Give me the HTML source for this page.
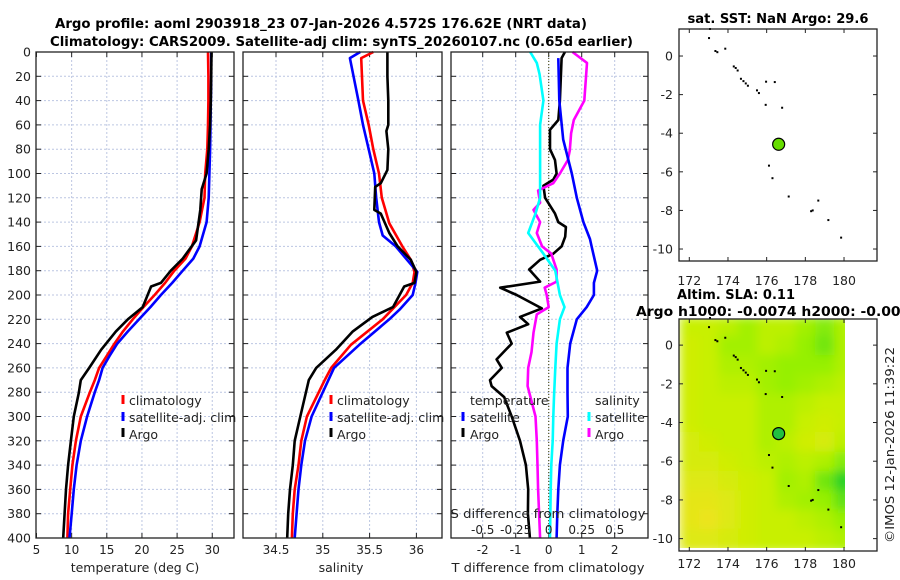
<!DOCTYPE html>
<html><head><meta charset="utf-8">
<style>
html,body{margin:0;padding:0;background:#fff;}
svg{display:block;font-family:"DejaVu Sans","Liberation Sans",sans-serif;}
</style></head>
<body>
<svg id="fig" width="900" height="580" viewBox="0 0 900 580" xmlns="http://www.w3.org/2000/svg">
<defs>
<filter id="smooth" x="0" y="0" width="1" height="1"><feGaussianBlur stdDeviation="5" edgeMode="duplicate"/></filter>
</defs>
<g font-weight="bold" font-size="13" fill="#000">
<text x="55" y="28" textLength="532" lengthAdjust="spacingAndGlyphs">Argo profile: aoml 2903918_23 07-Jan-2026 4.572S 176.62E (NRT data)</text>
<text x="50" y="46" textLength="583" lengthAdjust="spacingAndGlyphs">Climatology: CARS2009. Satellite-adj clim: synTS_20260107.nc (0.65d earlier)</text>
</g>
</svg>
<script>
// ---------- data ----------
const tempClimDepth=[0,20,40,60,80,100,120,140,160,170,180,190,200,210,220,230,240,250,260,270,280,300,320,340,360,380,400];
const tempClim=[29.4,29.45,29.45,29.4,29.3,29.0,28.9,28.2,27.1,26.2,24.6,23.3,21.8,20.2,18.7,17.3,16.1,15.0,13.9,13.3,12.6,11.3,10.6,10.1,9.8,9.5,9.4];
const tempSat=[29.85,29.85,29.8,29.75,29.7,29.6,29.5,29.2,28.2,27.3,25.8,24.3,22.7,21.2,19.6,18.0,16.5,15.4,14.4,13.9,13.3,12.2,11.3,10.7,10.3,10.0,9.7];
const tempArgoDepth=[0,20,40,60,80,100,113,130,155,170,180,190,193,210,220,230,245,260,270,281,300,320,340,360,380,400];
const tempArgo=[29.9,29.85,29.8,29.7,29.5,29.2,28.5,28.3,27.7,25.8,24.1,22.7,21.3,20.1,18.0,16.3,14.2,12.5,11.3,11.0,10.3,9.9,9.5,9.2,9.0,8.8];

const salClimDepth=[0,5,40,60,80,100,120,141,160,171,181,190,200,220,241,260,270,300,320,340,360,380,400];
const salClim=[35.54,35.41,35.43,35.49,35.54,35.6,35.63,35.71,35.85,35.94,35.98,35.96,35.89,35.64,35.3,35.09,35.02,34.83,34.77,34.74,34.70,34.68,34.67];
const salSatDepth=[0,5,40,60,80,100,120,140,151,160,171,181,190,200,212,220,241,260,270,300,320,340,360,380,400];
const salSat=[35.40,35.29,35.38,35.43,35.49,35.55,35.57,35.6,35.64,35.78,35.9,36.01,35.99,35.96,35.82,35.71,35.39,35.12,35.06,34.88,34.81,34.77,34.74,34.72,34.70];
const salArgoDepth=[0,20,40,60,65,80,97,108,111,130,133,149,160,171,181,190,193,210,218,230,245,260,270,300,320,340,360,380,400];
const salArgo=[35.69,35.69,35.70,35.70,35.68,35.70,35.69,35.62,35.56,35.55,35.62,35.71,35.8,35.94,36.0,35.98,35.87,35.75,35.53,35.32,35.14,34.93,34.85,34.76,34.70,34.68,34.65,34.63,34.62];

const dTSatDepth=[5,40,72,100,120,140,154,160,180,190,200,210,220,240,260,280,300,320,340,360,380,400];
const dTSat=[0.29,0.32,0.44,0.7,0.85,1.05,1.25,1.3,1.47,1.37,1.37,1.15,0.85,0.65,0.57,0.57,0.58,0.44,0.34,0.29,0.26,0.24];
const dTArgoDepth=[0,5,40,56,64,80,89,100,105,110,120,133,140,144,152,160,166,171,179,189,194,200,211,218,224,231,240,253,260,270,275,284,300,320,340,360,380,400];
const dTArgo=[0.49,0.39,0.34,0.29,0.04,0.04,0.19,0.24,0.14,-0.16,-0.11,0.19,0.29,0.52,0.5,0.39,0.14,-0.26,-0.59,-0.26,-1.47,-0.97,-0.21,-0.87,-0.62,-1.27,-1.12,-1.58,-1.42,-1.78,-1.73,-1.35,-1.12,-0.87,-0.69,-0.62,-0.63,-0.57];
const dSSatDepth=[0,9,18,40,60,100,120,133,149,166,180,200,210,220,240,260,284,300,320,340,360,400];
const dSSat=[-0.14,-0.09,-0.07,-0.04,-0.065,-0.065,-0.065,-0.1,-0.155,-0.04,0.05,0.085,0.12,0.085,0.06,0.05,0.04,0.035,0.03,0.02,0.015,0.01];
const dSArgoDepth=[0,9,40,56,67,81,89,100,108,114,124,130,140,149,160,166,171,179,189,194,200,210,216,231,247,260,275,300,320,340,360,400];
const dSArgo=[0.18,0.29,0.27,0.19,0.17,0.16,0.145,0.085,0.035,-0.08,-0.065,-0.115,-0.065,-0.09,-0.05,0.02,0.035,0.06,0.06,-0.03,-0.015,0,-0.09,-0.115,-0.13,-0.155,-0.16,-0.1,-0.09,-0.085,-0.08,-0.065];

const depthTicks=[0,20,40,60,80,100,120,140,160,180,200,220,240,260,280,300,320,340,360,380,400];
const tempTicks=[5,10,15,20,25,30];
const salTicks=[34.5,35,35.5,36];
const salTickLabels=["34.5","35","35.5","36"];
const dTTicks=[-2,-1,0,1,2];
const dSTicks=[-0.5,-0.25,0,0.25,0.5];
const dSTickLabels=["-0.5","-0.25","0","0.25","0.5"];

const lonTicks=[172,174,176,178,180];
const latTicks=[0,-2,-4,-6,-8,-10];
const islandLon=[173.07,173.02,173.35,173.45,173.86,174.3,174.4,174.5,174.67,174.8,174.92,175.03,175.5,175.6,175.97,176.42,175.95,176.8,176.12,176.3,177.14,178.67,178.3,178.38,179.19,179.85];
const islandLat=[1.4,0.93,0.26,0.2,0.38,-0.54,-0.62,-0.75,-1.18,-1.3,-1.42,-1.54,-1.78,-1.92,-1.33,-1.35,-2.53,-2.68,-5.68,-6.33,-7.28,-7.49,-8.04,-8.0,-8.5,-9.41];
const argoLon=176.62, argoLat=-4.572;
// SLA field, rows lat 1.5..-10.5 (1 deg), cols lon 171.5..180.5
const slaGrid=[
[0.5,0.5,0.55,0.65,0.55,0.55,0.65,0.75,0.6],
[0.45,0.5,0.65,0.65,0.55,0.6,0.7,0.8,0.6],
[0.45,0.5,0.6,0.6,0.65,0.7,0.7,0.7,0.6],
[0.45,0.5,0.55,0.55,0.65,0.7,0.65,0.6,0.55],
[0.45,0.5,0.5,0.5,0.6,0.6,0.55,0.5,0.5],
[0.45,0.5,0.5,0.5,0.6,0.6,0.5,0.45,0.5],
[0.4,0.45,0.5,0.5,0.6,0.55,0.45,0.4,0.55],
[0.4,0.4,0.45,0.5,0.55,0.6,0.55,0.6,0.75],
[0.35,0.35,0.4,0.45,0.5,0.65,0.6,0.8,1.0],
[0.3,0.3,0.35,0.45,0.5,0.6,0.65,0.7,0.85],
[0.3,0.25,0.35,0.45,0.5,0.5,0.55,0.6,0.7],
[0.35,0.35,0.4,0.45,0.5,0.5,0.5,0.55,0.6]
];

// ---------- helpers ----------
const NS="http://www.w3.org/2000/svg";
const svg=document.getElementById('fig');
function mk(tag,attrs,parent){const e=document.createElementNS(NS,tag);for(const k in attrs)e.setAttribute(k,attrs[k]);(parent||svg).appendChild(e);return e;}
const TOP=52,BOT=538;
const yD=d=>TOP+d*(BOT-TOP)/400;
const xT=t=>36.5+(t-5)*7.03;
const xS=s=>276+(s-34.5)*93.6;
const xDT=d=>548.7+d*33;
const xDS=s=>548.7+s*132;
const GRID="#bcc6e2";

function panel(name,x0,x1,xTicks,xf){
  const g=mk('g',{});
  
  
  depthTicks.forEach(d=>{if(d>0&&d<400){const l=mk('line',{x1:x0,x2:x1,y1:yD(d),y2:yD(d),stroke:GRID,'stroke-width':1,'stroke-dasharray':'2,2'},g);
    
    }
    const t1=mk('line',{x1:x0,x2:x0+5,y1:yD(d),y2:yD(d),stroke:'#222','stroke-width':1},g);
    
    
    const t2=mk('line',{x1:x1-5,x2:x1,y1:yD(d),y2:yD(d),stroke:'#222','stroke-width':1},g);
    
    
  });
  xTicks.forEach(v=>{const x=xf(v);if(x>x0+1&&x<x1-1){
    const l=mk('line',{x1:x,x2:x,y1:TOP,y2:BOT,stroke:GRID,'stroke-width':1,'stroke-dasharray':'2,2'},g);
    
    }
    const t1=mk('line',{x1:x,x2:x,y1:BOT-5,y2:BOT,stroke:'#222'},g);
    
    
    const t2=mk('line',{x1:x,x2:x,y1:TOP,y2:TOP+5,stroke:'#222'},g);
    
    
  });
  return g;
}
function series(name,g,depths,vals,xf,color,w){
  const pts=vals.map((v,i)=>xf(v).toFixed(1)+','+yD(depths[i]).toFixed(1)).join(' ');
  const p=mk('polyline',{points:pts,fill:'none',stroke:color,'stroke-width':w||2.6,'stroke-linejoin':'round'},g);
  
  
}
function frame(name,g,x0,x1,y0,y1){
  const r=mk('rect',{x:x0,y:y0,width:x1-x0,height:y1-y0,fill:'none',stroke:'#222','stroke-width':1.3},g);
  
  
}
function txt(name,s,x,y,attrs,parent){
  const t=mk('text',Object.assign({x:x,y:y,'font-size':12,fill:'#222'},attrs||{}),parent);
  t.textContent=s;
  
  
  return t;
}
function legendMark(g,x,y,color){
  const l=mk('line',{x1:x,x2:x,y1:y-10,y2:y-1,stroke:color,'stroke-width':3},g);
  
  
}

// ---------- panel 1: temperature ----------
const g1=panel('temperature-panel',36,234,tempTicks,xT);
series('temp-climatology-line',g1,tempClimDepth,tempClim,xT,'#ff0000');
series('temp-satellite-line',g1,tempClimDepth,tempSat,xT,'#0000ff');
series('temp-argo-line',g1,tempArgoDepth,tempArgo,xT,'#000000');
frame('temperature-axes-frame',g1,36,234,TOP,BOT);
depthTicks.forEach(d=>txt('depth-tick-label',String(d),31,yD(d)+4.5,{'text-anchor':'end','font-size':12.5},g1));
tempTicks.forEach(v=>txt('temp-tick-label',String(v),xT(v),554,{'text-anchor':'middle'},g1));
txt('temp-x-axis-title','temperature (deg C)',135,572,{'text-anchor':'middle','font-size':12.5},g1);
const lg1=mk('g',{},g1);


legendMark(lg1,123,405,'#ff0000');txt('legend-climatology','climatology',129,405,{'font-size':12.5},lg1);
legendMark(lg1,123,422,'#0000ff');txt('legend-satellite-adj','satellite-adj. clim',129,422,{'font-size':12.5},lg1);
legendMark(lg1,123,438,'#000000');txt('legend-argo','Argo',129,439,{'font-size':12.5},lg1);

// ---------- panel 2: salinity ----------
const g2=panel('salinity-panel',243,442,salTicks,xS);
series('sal-climatology-line',g2,salClimDepth,salClim,xS,'#ff0000');
series('sal-satellite-line',g2,salSatDepth,salSat,xS,'#0000ff');
series('sal-argo-line',g2,salArgoDepth,salArgo,xS,'#000000');
frame('salinity-axes-frame',g2,243,442,TOP,BOT);
salTicks.forEach((v,i)=>txt('sal-tick-label',salTickLabels[i],xS(v),554,{'text-anchor':'middle'},g2));
txt('sal-x-axis-title','salinity',341,572,{'text-anchor':'middle','font-size':12.5},g2);
const lg2=mk('g',{},g2);


legendMark(lg2,331,405,'#ff0000');txt('legend-climatology','climatology',337,405,{'font-size':12.5},lg2);
legendMark(lg2,331,422,'#0000ff');txt('legend-satellite-adj','satellite-adj. clim',337,422,{'font-size':12.5},lg2);
legendMark(lg2,331,438,'#000000');txt('legend-argo','Argo',337,439,{'font-size':12.5},lg2);

// ---------- panel 3: differences ----------
const g3=panel('difference-panel',451,648,dTTicks,xDT);
const zl=mk('line',{x1:xDT(0),x2:xDT(0),y1:TOP,y2:BOT,stroke:'#555522','stroke-width':1.2,'stroke-dasharray':'1,2'},g3);


series('dT-argo-line',g3,dTArgoDepth,dTArgo,xDT,'#000000');
series('dS-argo-line',g3,dSArgoDepth,dSArgo,xDS,'#ff00ff');
series('dS-satellite-line',g3,dSSatDepth,dSSat,xDS,'#00ffff');
series('dT-satellite-line',g3,dTSatDepth,dTSat,xDT,'#0000ff');
frame('difference-axes-frame',g3,451,648,TOP,BOT);
dTTicks.forEach(v=>txt('dT-tick-label',String(v),xDT(v),554,{'text-anchor':'middle'},g3));
txt('dT-x-axis-title','T difference from climatology',548,572,{'text-anchor':'middle','font-size':12.5,textLength:193,lengthAdjust:'spacingAndGlyphs'},g3);
txt('dS-axis-title','S difference from climatology',548,518,{'text-anchor':'middle','font-size':12.5,textLength:195,lengthAdjust:'spacingAndGlyphs'},g3);
dSTicks.forEach((v,i)=>txt('dS-tick-label',dSTickLabels[i],xDS(v),534,{'text-anchor':'middle'},g3));
const lg3=mk('g',{},g3);


txt('legend-temperature-header','temperature',470,405,{'font-size':12.5},lg3);
legendMark(lg3,463,422,'#0000ff');txt('legend-t-satellite','satellite',470,422,{'font-size':12.5},lg3);
legendMark(lg3,463,438,'#000000');txt('legend-t-argo','Argo',470,439,{'font-size':12.5},lg3);
txt('legend-salinity-header','salinity',595,405,{'font-size':12.5},lg3);
legendMark(lg3,589,422,'#00ffff');txt('legend-s-satellite','satellite',595,422,{'font-size':12.5},lg3);
legendMark(lg3,589,438,'#ff00ff');txt('legend-s-argo','Argo',595,439,{'font-size':12.5},lg3);

// ---------- maps ----------
const MX0=679,MX1=877;
const xLon=lon=>689.3+(lon-172)*19.34;
function mapAxes(name){
  const g=mk('g',{});
  
  
  return g;
}
function mapDecor(g,y0,y1,yLat,labelY){
  frame('map-frame',g,MX0,MX1,y0,y1);
  lonTicks.forEach(v=>{const x=xLon(v);
    const t=mk('line',{x1:x,x2:x,y1:y1-4,y2:y1,stroke:'#222'},g);
    
    
    const t2=mk('line',{x1:x,x2:x,y1:y0,y2:y0+4,stroke:'#222'},g);
    
    
    txt('lon-tick-label',String(v),x,labelY,{'text-anchor':'middle','font-size':12.5},g);});
  latTicks.forEach(v=>{const y=yLat(v);
    const t=mk('line',{x1:MX0,x2:MX0+4,y1:y,y2:y,stroke:'#222'},g);
    
    
    const t2=mk('line',{x1:MX1-4,x2:MX1,y1:y,y2:y,stroke:'#222'},g);
    
    
    txt('lat-tick-label',String(v),673,y+4.5,{'text-anchor':'end','font-size':12.5},g);});
}
function islands(g,yLat){
  islandLon.forEach((lon,i)=>{
    const r=mk('rect',{x:xLon(lon)-1,y:yLat(islandLat[i])-1,width:2,height:2,fill:'#000'},g);
    
    
  });
}
function argoDot(g,yLat,fill){
  const c=mk('circle',{cx:xLon(argoLon),cy:yLat(argoLat),r:6,fill:fill,stroke:'#000','stroke-width':1.2},g);
  
  
}
// map 1: SST
const yLat1=lat=>29+(1.4-lat)*19.3;
const m1=mapAxes('sst-map');
txt('sst-map-title','sat. SST: NaN Argo: 29.6',778,23,{'text-anchor':'middle','font-weight':'bold','font-size':13,fill:'#000',textLength:181,lengthAdjust:'spacingAndGlyphs'},m1);
islands(m1,yLat1);
argoDot(m1,yLat1,'#66dd00');
mapDecor(m1,29,261,yLat1,285);

// map 2: SLA
const yLat2=lat=>319+(1.35-lat)*19.35;
const m2=mapAxes('sla-map');
const clip=mk('clipPath',{id:'slaclip'},svg);
mk('rect',{x:MX0,y:319,width:845-MX0,height:229},clip);
const hmOuter=mk('g',{'clip-path':'url(#slaclip)'},m2);


const hm=mk('g',{filter:'url(#smooth)'},hmOuter);


function slaColor(v){
  const stops=[[0.25,[236,228,30]],[0.5,[200,240,0]],[0.7,[150,240,0]],[1.0,[40,210,40]]];
  if(v<=stops[0][0])return 'rgb('+stops[0][1]+')';
  for(let i=1;i<stops.length;i++){if(v<=stops[i][0]){const a=stops[i-1],b=stops[i],f=(v-a[0])/(b[0]-a[0]);
    return 'rgb('+a[1].map((c,k)=>Math.round(c+(b[1][k]-c)*f)).join(',')+')';}}
  return 'rgb('+stops[3][1]+')';
}
slaGrid.forEach((row,ri)=>row.forEach((v,ci)=>{
  const latTop=1.5-ri,lonL=171.5+ci;
  const r=mk('rect',{x:xLon(lonL),y:yLat2(latTop),width:19.34+0.5,height:19.35+(ri===11?4:0.5),fill:slaColor(v)},hm);
  
  
}));
islands(m2,yLat2);
argoDot(m2,yLat2,'#22c040');
mapDecor(m2,319,551,yLat2,568);
txt('sla-map-title','Altim. SLA: 0.11',677,299,{'font-weight':'bold','font-size':13,fill:'#000',textLength:118,lengthAdjust:'spacingAndGlyphs'});
txt('sla-map-subtitle','Argo h1000: -0.0074 h2000: -0.0035',636,316,{'font-weight':'bold','font-size':13,fill:'#000',textLength:284,lengthAdjust:'spacingAndGlyphs'});
txt('imos-credit','\u00a9IMOS 12-Jan-2026 11:39:22',0,0,{'font-size':12.5,'text-anchor':'middle',transform:'translate(894,445) rotate(-90)',textLength:196,lengthAdjust:'spacingAndGlyphs'});
</script>
</body></html>
